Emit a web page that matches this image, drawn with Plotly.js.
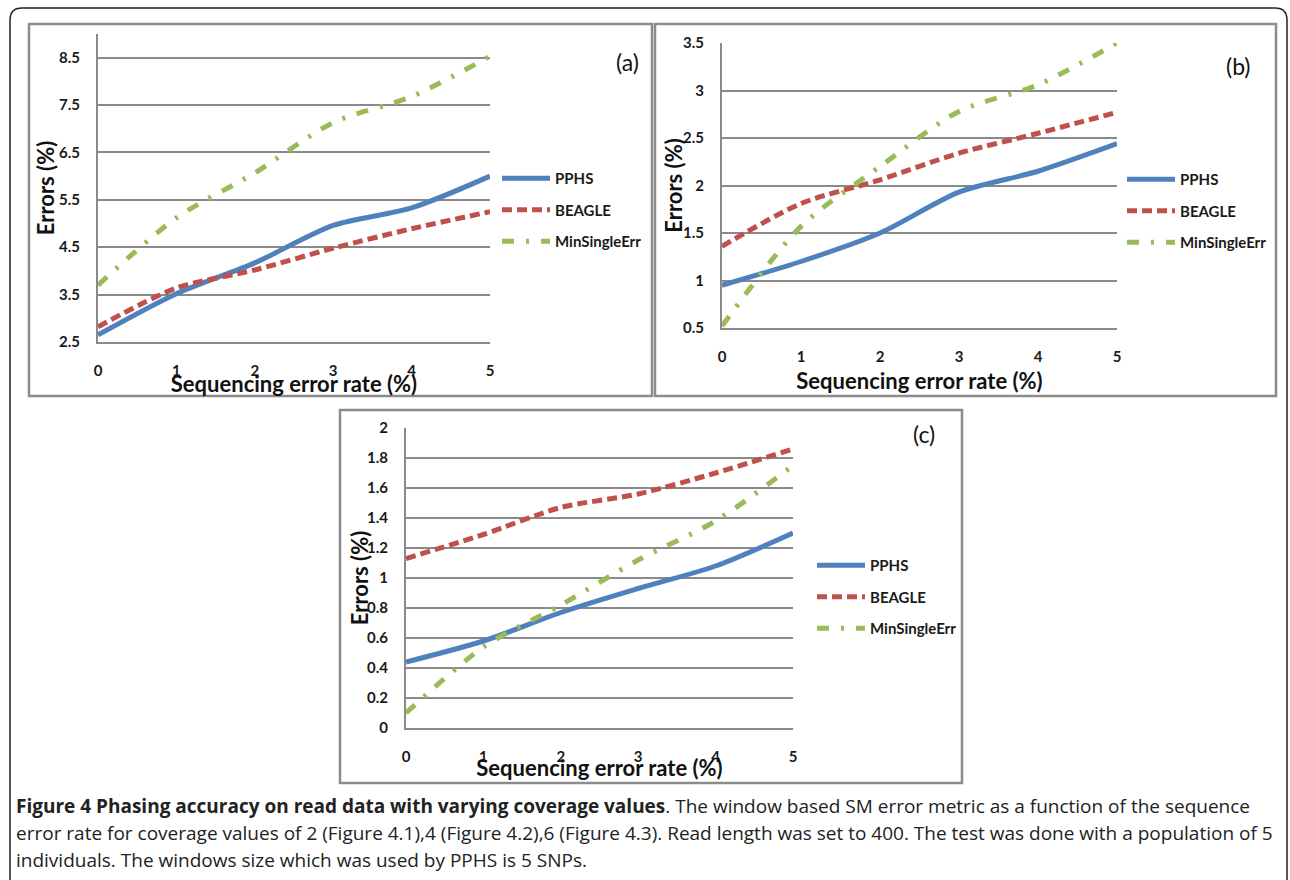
<!DOCTYPE html>
<html>
<head>
<meta charset="utf-8">
<script src="https://cdn.plot.ly/plotly-3.0.1.min.js"></script>
<style>
html,body{margin:0;padding:0;background:#fff;}
#chart{width:1290px;height:880px;}
</style>
</head>
<body>
<div id="chart"></div>
<script>
// ---- data ----
const errorRate = [0, 1, 2, 3, 4, 5];
const seriesNames = ['PPHS', 'BEAGLE', 'MinSingleErr'];

const a_PPHS   = [2.65, 3.52, 4.17, 4.96, 5.33, 6.00];
const a_BEAGLE = [2.82, 3.64, 4.02, 4.48, 4.89, 5.25];
const a_MinSingleErr = [3.70, 5.12, 6.07, 7.13, 7.68, 8.53];

const b_PPHS   = [0.95, 1.20, 1.50, 1.93, 2.15, 2.44];
const b_BEAGLE = [1.36, 1.81, 2.06, 2.34, 2.55, 2.77];
const b_MinSingleErr = [0.52, 1.57, 2.20, 2.78, 3.06, 3.50];

const c_PPHS   = [0.44, 0.58, 0.77, 0.93, 1.08, 1.30];
const c_BEAGLE = [1.13, 1.29, 1.47, 1.56, 1.70, 1.86];
const c_MinSingleErr = [0.10, 0.54, 0.82, 1.12, 1.38, 1.75];

const xTickLabels = ['0', '1', '2', '3', '4', '5'];
const panelLabels = ['(a)', '(b)', '(c)'];
const xTitle = 'Sequencing error rate (%)';
const yTitle = 'Errors (%)';
const captionBold = 'Figure 4 Phasing accuracy on read data with varying coverage values';
const captionLines = [
  '. The window based SM error metric as a function of the sequence',
  'error rate for coverage values of 2 (Figure 4.1),4 (Figure 4.2),6 (Figure 4.3). Read length was set to 400. The test was done with a population of 5',
  'individuals. The windows size which was used by PPHS is 5 SNPs.'
];

// ---- helpers ----
const W = 1290, H = 880;
const PX = p => p / W;
const PY = p => 1 - p / H;

const styles = [
  {color: '#4F81BD', width: 5, dash: 'solid'},
  {color: '#C0504D', width: 5, dash: '10px,5px'},
  {color: '#9BBB59', width: 5, dash: '12px,12px,3px,12px'}
];

const panels = [
  {series: [a_PPHS, a_BEAGLE, a_MinSingleErr], xs: '', ov: '4', legend: 'legend'},
  {series: [b_PPHS, b_BEAGLE, b_MinSingleErr], xs: '2', ov: '5', legend: 'legend2'},
  {series: [c_PPHS, c_BEAGLE, c_MinSingleErr], xs: '3', ov: '6', legend: 'legend3'}
];

const traces = [];
panels.forEach((p, pi) => {
  p.series.forEach((vals, si) => {
    traces.push({
      type: 'scatter', mode: 'lines',
      x: errorRate, y: vals,
      name: seriesNames[si],
      xaxis: 'x' + p.xs, yaxis: 'y' + p.xs,
      legend: p.legend,
      legendgroup: 'g' + pi + si,
      line: Object.assign({shape: 'spline', smoothing: 0.8}, styles[si]),
      hoverinfo: 'skip'
    });
  });
  // empty trace so the title-carrying overlay axes exist
  traces.push({type: 'scatter', mode: 'lines', x: [], y: [], xaxis: 'x' + p.ov, yaxis: 'y' + p.ov,
    showlegend: false, hoverinfo: 'skip'});
});

const fam = 'Lato, Open Sans, sans-serif';
const tickFont = {family: fam, size: 15, color: '#1a1a1a', weight: 'bold'};
const titleFont = {family: fam, size: 22, color: '#111', weight: 'bold'};
const gridCol = '#8a8a8a';

function xax(dom, anchor) {
  return {
    domain: dom, range: [0, 5], anchor: anchor, automargin: false,
    tickvals: errorRate, ticktext: xTickLabels, ticks: '',
    showgrid: false, zeroline: false,
    showline: true, linecolor: gridCol, linewidth: 2,
    tickfont: tickFont, ticklabelstandoff: 14
  };
}
function yax(dom, range, tick0, dtick, anchor) {
  return {
    domain: dom, range: range, anchor: anchor, automargin: false,
    tick0: tick0, dtick: dtick, ticks: '',
    showgrid: true, gridcolor: gridCol, gridwidth: 2,
    zeroline: false, showline: true, linecolor: gridCol, linewidth: 2,
    tickfont: tickFont, ticklabelstandoff: 13
  };
}
// overlay axes carrying only the titles
function xTitleAx(dom, anchor, over, standoff) {
  return {
    domain: dom, range: [0, 5], anchor: anchor, overlaying: over, automargin: true,
    showticklabels: false, ticks: '', showgrid: false, zeroline: false, showline: false,
    title: {text: xTitle, font: titleFont, standoff: standoff}
  };
}
function yTitleAx(dom, range, anchor, over, standoff) {
  return {
    domain: dom, range: range, anchor: anchor, overlaying: over, automargin: true,
    showticklabels: false, ticks: '', showgrid: false, zeroline: false, showline: false,
    title: {text: yTitle, font: titleFont, standoff: standoff}
  };
}

const domXa = [PX(98), PX(490)], domYa = [PY(342), PY(34)];
const domXb = [PX(722), PX(1117)], domYb = [PY(328), PY(43)];
const domXc = [PX(406), PX(793)], domYc = [PY(728), PY(428)];
const rngA = [2.5, 9.0], rngB = [0.5, 3.5], rngC = [0, 2];

function legendAt(xp, yp) {
  return {
    x: PX(xp), y: PY(yp), xanchor: 'left', yanchor: 'top',
    bgcolor: 'rgba(0,0,0,0)', borderwidth: 0,
    font: {family: fam, size: 15, color: '#1a1a1a', weight: 'bold'},
    tracegroupgap: 9, itemwidth: 48, itemclick: false, itemdoubleclick: false
  };
}

const frameCol = '#8c8c8c';
function frame(x0, y0, x1, y1) {
  return {type: 'rect', xref: 'paper', yref: 'paper',
    x0: PX(x0), x1: PX(x1), y0: PY(y1), y1: PY(y0),
    line: {color: frameCol, width: 2.5}, fillcolor: 'rgba(0,0,0,0)', layer: 'below'};
}
// outer rounded border
const r = 12, L = 10, T = 8, R = 1287, B = 900;
const outerPath = 'M ' + PX(L) + ',' + PY(B) +
  ' L ' + PX(L) + ',' + PY(T + r) +
  ' Q ' + PX(L) + ',' + PY(T) + ' ' + PX(L + r) + ',' + PY(T) +
  ' L ' + PX(R - r) + ',' + PY(T) +
  ' Q ' + PX(R) + ',' + PY(T) + ' ' + PX(R) + ',' + PY(T + r) +
  ' L ' + PX(R) + ',' + PY(B);

const shapes = [
  {type: 'path', xref: 'paper', yref: 'paper', path: outerPath, line: {color: '#222', width: 1.5}},
  frame(29, 24, 652, 396),
  frame(655, 24, 1276, 396),
  frame(340, 410, 962, 783)
];

const panelLabelFont = {family: fam, size: 23, color: '#111'};
const annotations = [
  {text: panelLabels[0], x: PX(627), y: PY(46), xref: 'paper', yref: 'paper', showarrow: false, font: panelLabelFont},
  {text: panelLabels[1], x: PX(1253), y: PY(50), xref: 'paper', yref: 'paper', showarrow: false, font: panelLabelFont},
  {text: panelLabels[2], x: PX(937), y: PY(434), xref: 'paper', yref: 'paper', showarrow: false, font: panelLabelFont}
];
const capFont = {family: 'Open Sans, sans-serif', size: 19, color: '#222'};
const capY = [806, 833, 860];
const capX = 14;
annotations.push({text: '<b>' + captionBold + '</b>' + captionLines[0], x: PX(capX), y: PY(capY[0]),
  xref: 'paper', yref: 'paper', xanchor: 'left', yanchor: 'middle', align: 'left', showarrow: false, font: capFont});
annotations.push({text: captionLines[1], x: PX(capX), y: PY(capY[1]),
  xref: 'paper', yref: 'paper', xanchor: 'left', yanchor: 'middle', align: 'left', showarrow: false, font: capFont});
annotations.push({text: captionLines[2], x: PX(capX), y: PY(capY[2]),
  xref: 'paper', yref: 'paper', xanchor: 'left', yanchor: 'middle', align: 'left', showarrow: false, font: capFont});

const layout = {
  width: W, height: H,
  margin: {l: 0, r: 0, t: 0, b: 0, pad: 0},
  paper_bgcolor: '#fff', plot_bgcolor: 'rgba(0,0,0,0)',
  showlegend: true,
  xaxis: xax(domXa, 'y'), yaxis: yax(domYa, rngA, 2.5, 1, 'x'),
  xaxis2: xax(domXb, 'y2'), yaxis2: yax(domYb, rngB, 0.5, 0.5, 'x2'),
  xaxis3: xax(domXc, 'y3'), yaxis3: yax(domYc, rngC, 0, 0.2, 'x3'),
  xaxis4: xTitleAx(domXa, 'y4', 'x', 34), yaxis4: yTitleAx(domYa, rngA, 'x4', 'y', 36),
  xaxis5: xTitleAx(domXb, 'y5', 'x2', 45), yaxis5: yTitleAx(domYb, rngB, 'x5', 'y2', 32),
  xaxis6: xTitleAx(domXc, 'y6', 'x3', 32), yaxis6: yTitleAx(domYc, rngC, 'x6', 'y3', 30),
  legend: legendAt(497, 162),
  legend2: legendAt(1122, 163),
  legend3: legendAt(812, 549),
  shapes: shapes,
  annotations: annotations
};

Plotly.newPlot('chart', traces, layout, {displayModeBar: false, staticPlot: true});
</script>
</body>
</html>
